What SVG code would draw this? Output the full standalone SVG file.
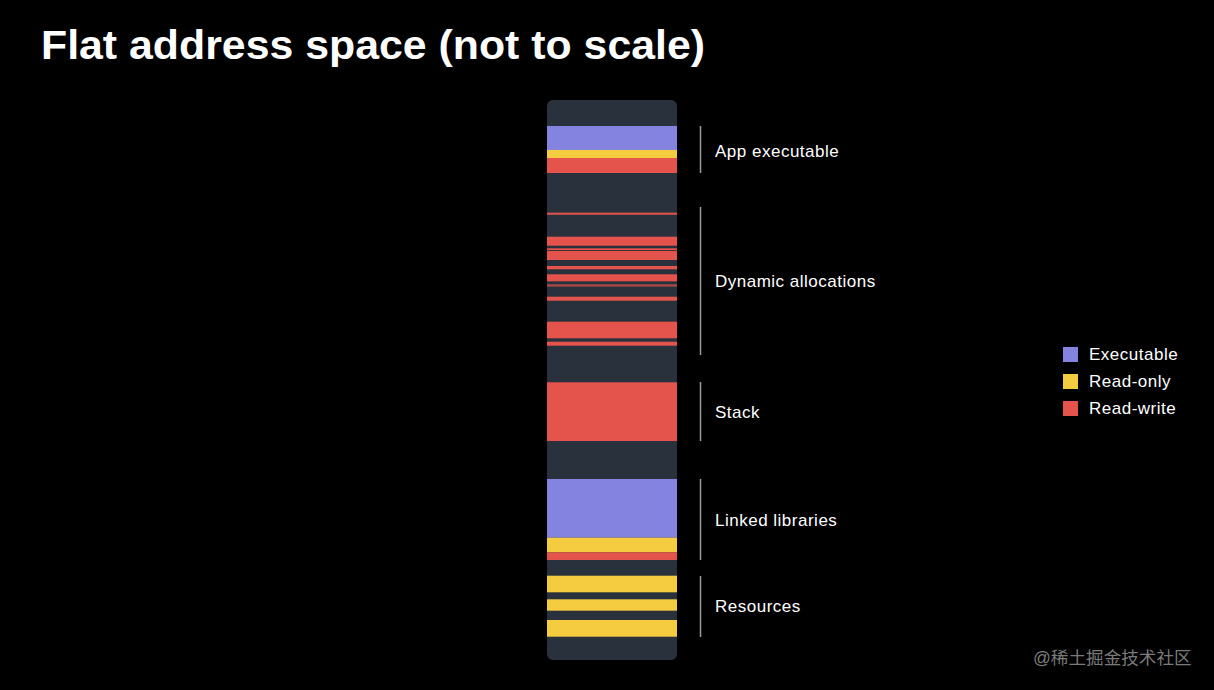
<svg xmlns="http://www.w3.org/2000/svg" width="1214" height="690" viewBox="0 0 1214 690">
<defs>
<style>
.exe{fill:#8484e0}
.ro{fill:#f5cb3f}
.rw{fill:#e5544c}
.lbl{font-family:"Liberation Sans",Arial,sans-serif;font-size:17px;letter-spacing:0.5px;fill:#ffffff}
.br{stroke:#9a9a9a;stroke-width:1.5;fill:none}
</style>
<clipPath id="col"><rect x="547" y="100" width="130" height="560" rx="6"/></clipPath>
</defs>
<rect width="1214" height="690" fill="#000"/>
<text x="41" y="59" font-family="Liberation Sans,Arial,sans-serif" font-weight="bold" font-size="40" fill="#fff" textLength="664" lengthAdjust="spacingAndGlyphs">Flat address space (not to scale)</text>
<g id="memory" clip-path="url(#col)">
<rect x="547" y="100" width="130" height="560" fill="#29323c"/>
<g id="app-executable">
<rect class="exe" x="547" y="126" width="130" height="24"/>
<rect class="ro" x="547" y="150" width="130" height="8"/>
<rect class="rw" x="547" y="158" width="130" height="15"/>
</g>
<g id="dynamic-allocations">
<rect class="rw" x="547" y="212.7" width="130" height="2"/>
<rect class="rw" x="547" y="236.7" width="130" height="9"/>
<rect class="rw" x="547" y="248.3" width="130" height="1.8"/>
<rect class="rw" x="547" y="251" width="130" height="9"/>
<rect class="rw" x="547" y="266" width="130" height="3.3"/>
<rect class="rw" x="547" y="274.3" width="130" height="7"/>
<rect class="rw" x="547" y="284.3" width="130" height="2.3" opacity="0.7"/>
<rect class="rw" x="547" y="296.7" width="130" height="4"/>
<rect class="rw" x="547" y="321.7" width="130" height="16.6"/>
<rect class="rw" x="547" y="341.7" width="130" height="4"/>
</g>
<g id="stack">
<rect class="rw" x="547" y="382.3" width="130" height="58.7"/>
</g>
<g id="linked-libraries">
<rect class="exe" x="547" y="479" width="130" height="58.7"/>
<rect class="ro" x="547" y="537.7" width="130" height="14.6"/>
<rect class="rw" x="547" y="552.3" width="130" height="7.7"/>
</g>
<g id="resources">
<rect class="ro" x="547" y="575.7" width="130" height="16.6"/>
<rect class="ro" x="547" y="599.3" width="130" height="11.4"/>
<rect class="ro" x="547" y="620" width="130" height="16.7"/>
</g>
</g>
<g id="connectors">
<line class="br" x1="700.5" y1="126" x2="700.5" y2="173"/>
<line class="br" x1="700.5" y1="207" x2="700.5" y2="355"/>
<line class="br" x1="700.5" y1="382" x2="700.5" y2="441"/>
<line class="br" x1="700.5" y1="479" x2="700.5" y2="560"/>
<line class="br" x1="700.5" y1="576" x2="700.5" y2="637"/>
</g>
<g id="labels">
<text class="lbl" x="715" y="157">App executable</text>
<text class="lbl" x="715" y="287">Dynamic allocations</text>
<text class="lbl" x="715" y="418">Stack</text>
<text class="lbl" x="715" y="526">Linked libraries</text>
<text class="lbl" x="715" y="612">Resources</text>
</g>
<g id="legend">
<rect class="exe" x="1063" y="347" width="15" height="15"/>
<text class="lbl" x="1089" y="360">Executable</text>
<rect class="ro" x="1063" y="374" width="15" height="15"/>
<text class="lbl" x="1089" y="387">Read-only</text>
<rect class="rw" x="1063" y="401" width="15" height="15"/>
<text class="lbl" x="1089" y="414">Read-write</text>
</g>
<text x="1033" y="664" font-family="Liberation Sans,'Noto Sans CJK SC',sans-serif" font-size="17.6" fill="#7a7a7a">@稀土掘金技术社区</text>
</svg>
